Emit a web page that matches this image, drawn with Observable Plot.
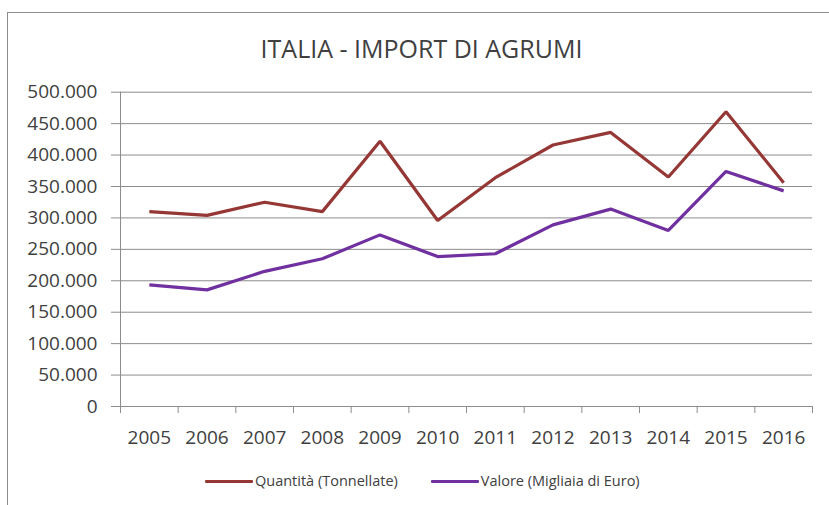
<!DOCTYPE html>
<html>
<head>
<meta charset="utf-8">
<script src="https://cdn.jsdelivr.net/npm/d3@7"></script>
<script src="https://cdn.jsdelivr.net/npm/@observablehq/plot@0.6"></script>
<style>
  html, body { margin: 0; padding: 0; background: #fff; overflow: hidden; }
  #wrap { position: relative; width: 829px; height: 505px; overflow: hidden; font-family: "Open Sans", sans-serif; }
  #border { position: absolute; left: 7px; top: 12px; width: 900px; height: 600px; border: 1px solid #8c8c8c; }
  #title { position: absolute; left: 0; width: 843px; top: 33px; text-align: center; font-size: 25px; color: #404040; line-height: 30px; }
  #chart { position: absolute; left: 0; top: 0; }
  #legend { position: absolute; top: 471px; left: 205px; font-size: 14.5px; line-height: 20px; color: #404040; display: flex; align-items: center; white-space: nowrap; }
  .item { display: flex; align-items: center; margin-right: 33px; }
  .sw { display: inline-block; width: 48px; height: 3px; margin-right: 2px; border-radius: 1px; }
</style>
</head>
<body>
<div id="wrap">
  <div id="border"></div>
  <div id="title">ITALIA - IMPORT DI AGRUMI</div>
  <div id="chart"></div>
  <div id="legend"></div>
</div>
<script>
const years = [2005, 2006, 2007, 2008, 2009, 2010, 2011, 2012, 2013, 2014, 2015, 2016];
const quantita = [310000, 304000, 325000, 310000, 422000, 296000, 364000, 416000, 436000, 365000, 469000, 356000];
const valore = [193500, 185500, 215000, 235000, 273000, 238500, 243000, 289000, 314000, 280000, 374000, 343000];
const yTicks = [0, 50000, 100000, 150000, 200000, 250000, 300000, 350000, 400000, 450000, 500000];
const seriesNames = ["Quantità (Tonnellate)", "Valore (Migliaia di Euro)"];
const seriesColors = ["#953735", "#7030a0"];

const rows = [];
years.forEach((yr, i) => {
  rows.push({year: yr, value: quantita[i], series: seriesNames[0]});
  rows.push({year: yr, value: valore[i], series: seriesNames[1]});
});
const boundaries = [years[0] - 0.5, ...years.map(y => y + 0.5)];
const fmt = v => d3.format(",")(v).replace(/,/g, ".");

const chart = Plot.plot({
  width: 829,
  height: 505,
  marginLeft: 120,
  marginRight: 17,
  marginTop: 91.7,
  marginBottom: 99,
  style: {fontFamily: "Open Sans, sans-serif", fontSize: "19px", color: "#404040", background: "transparent", overflow: "visible"},
  x: {domain: [years[0] - 0.5, years[years.length - 1] + 0.5], axis: null, label: null},
  y: {domain: [0, 500000], axis: null, label: null},
  color: {domain: seriesNames, range: seriesColors},
  marks: [
    Plot.gridY(yTicks, {stroke: "#8c8c8c", strokeOpacity: 1, strokeWidth: 1}),
    Plot.axisY(yTicks, {label: null, tickSize: 9, tickPadding: 14, tickFormat: fmt, stroke: "#8c8c8c", fill: "#404040", fontSize: 19}),
    Plot.ruleX([boundaries[0]], {stroke: "#8c8c8c"}),
    Plot.ruleY([0], {stroke: "#8c8c8c"}),
    Plot.axisX(boundaries, {label: null, tickSize: 7, tickFormat: () => "", stroke: "#8c8c8c"}),
    Plot.axisX(years, {label: null, tickSize: 0, tickPadding: 24, tickFormat: d => String(d), fill: "#404040", fontSize: 19}),
    Plot.line(rows, {x: "year", y: "value", z: "series", stroke: "series", strokeWidth: 3.2, strokeLinejoin: "miter", strokeLinecap: "butt"})
  ]
});
document.getElementById("chart").appendChild(chart);

const legend = document.getElementById("legend");
seriesNames.forEach((name, i) => {
  const it = document.createElement("div");
  it.className = "item";
  const sw = document.createElement("span");
  sw.className = "sw";
  sw.style.background = seriesColors[i];
  const tx = document.createElement("span");
  tx.textContent = name;
  it.appendChild(sw);
  it.appendChild(tx);
  legend.appendChild(it);
});
</script>
</body>
</html>
